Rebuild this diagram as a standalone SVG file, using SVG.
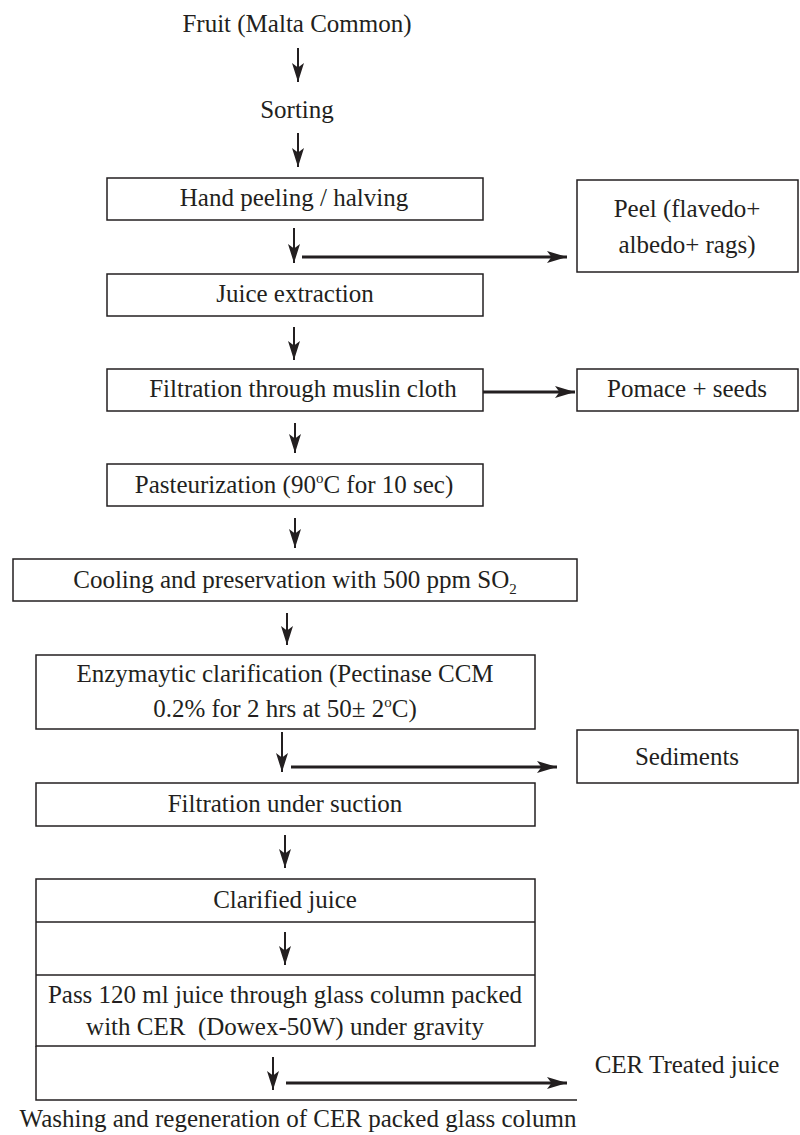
<svg xmlns="http://www.w3.org/2000/svg" width="800" height="1135" viewBox="0 0 800 1135">
<defs>
<style>
.box{fill:#ffffff;stroke:#231f20;stroke-width:1.5}
.t{font-family:"Liberation Serif","Times New Roman",Times,serif;font-size:25px;fill:#231f20;text-anchor:middle}
.v{stroke:#231f20;stroke-width:2;fill:none}
.h{stroke:#231f20;stroke-width:3;fill:none}
.edge{stroke:#231f20;stroke-width:1.5;fill:none}
</style>
<marker id="av" markerUnits="userSpaceOnUse" markerWidth="20" markerHeight="14" viewBox="0 0 20 14" refX="19" refY="7" orient="auto">
<path d="M0,1 L19,7 L0,13 L4.5,7 Z" fill="#231f20"/>
</marker>
<marker id="ah" markerUnits="userSpaceOnUse" markerWidth="21" markerHeight="14" viewBox="0 0 21 14" refX="20" refY="7" orient="auto">
<path d="M0,1 L20,7 L0,13 L4.5,7 Z" fill="#231f20"/>
</marker>
</defs>
<rect width="800" height="1135" fill="#ffffff"/>

<g id="n-fruit"><text class="t" font-family="Liberation Serif, serif" x="297" y="32">Fruit (Malta Common)</text></g>
<g id="n-sorting"><text class="t" x="297" y="118">Sorting</text></g>
<g id="n-hand"><rect class="box" x="107" y="178" width="376" height="42"/><text class="t" x="294" y="206">Hand peeling / halving</text></g>
<g id="n-peel"><rect class="box" x="577" y="180" width="221" height="92"/><text class="t" x="687" y="217">Peel (flavedo+</text><text class="t" x="687" y="253">albedo+ rags)</text></g>
<g id="n-juice"><rect class="box" x="107" y="274" width="376" height="42"/><text class="t" x="295" y="302">Juice extraction</text></g>
<g id="n-filtration"><rect class="box" x="107" y="369" width="376" height="42"/><text class="t" x="303" y="397">Filtration through muslin cloth</text></g>
<g id="n-pomace"><rect class="box" x="577" y="369" width="221" height="42"/><text class="t" x="687" y="397">Pomace + seeds</text></g>
<g id="n-past"><rect class="box" x="107" y="464" width="376" height="42"/><text class="t" x="294" y="493">Pasteurization (90<tspan font-size="15" dy="-10">o</tspan><tspan dy="10">C for 10 sec)</tspan></text></g>
<g id="n-cool"><rect class="box" x="13" y="559" width="564" height="42"/><text class="t" x="295" y="588">Cooling and preservation with 500 ppm SO<tspan font-size="15" dy="6">2</tspan></text></g>
<g id="n-enzyme"><rect class="box" x="36" y="655" width="499" height="74"/><text class="t" x="285" y="682">Enzymaytic clarification (Pectinase CCM</text><text class="t" x="285" y="717">0.2% for 2 hrs at 50± 2<tspan font-size="15" dy="-10">o</tspan><tspan dy="10">C)</tspan></text></g>
<g id="n-sediments"><rect class="box" x="577" y="730" width="221" height="53"/><text class="t" x="687" y="765">Sediments</text></g>
<g id="n-suction"><rect class="box" x="36" y="783" width="499" height="43"/><text class="t" x="285" y="812">Filtration under suction</text></g>
<g id="n-column">
<rect class="box" x="36" y="879" width="499" height="167"/>
<line class="edge" x1="36" y1="922" x2="535" y2="922"/>
<line class="edge" x1="36" y1="975" x2="535" y2="975"/>
<text class="t" x="285" y="908">Clarified juice</text>
<text class="t" x="285" y="1003">Pass 120 ml juice through glass column packed</text>
<text class="t" x="285" y="1035">with CER&#160; (Dowex-50W) under gravity</text>
<polyline class="edge" points="36,1046 36,1100 577,1100"/>
</g>
<g id="n-cer"><text class="t" x="687" y="1073">CER Treated juice</text></g>
<g id="n-washing"><text class="t" x="298" y="1127">Washing and regeneration of CER packed glass column</text></g>

<g id="connectors">
<line class="v" x1="298" y1="48" x2="298" y2="82" marker-end="url(#av)"/>
<line class="v" x1="298" y1="133" x2="298" y2="167" marker-end="url(#av)"/>
<line class="v" x1="294" y1="228" x2="294" y2="263" marker-end="url(#av)"/>
<line class="h" x1="302" y1="257" x2="567" y2="257" marker-end="url(#ah)"/>
<line class="v" x1="294" y1="327" x2="294" y2="360" marker-end="url(#av)"/>
<line class="h" x1="483" y1="392" x2="575" y2="392" marker-end="url(#ah)"/>
<line class="v" x1="295" y1="423" x2="295" y2="453" marker-end="url(#av)"/>
<line class="v" x1="295" y1="518" x2="295" y2="548" marker-end="url(#av)"/>
<line class="v" x1="287" y1="613" x2="287" y2="645" marker-end="url(#av)"/>
<line class="v" x1="282" y1="732" x2="282" y2="772" marker-end="url(#av)"/>
<line class="h" x1="291" y1="767" x2="557" y2="767" marker-end="url(#ah)"/>
<line class="v" x1="285" y1="835" x2="285" y2="868" marker-end="url(#av)"/>
<line class="v" x1="285" y1="932" x2="285" y2="965" marker-end="url(#av)"/>
<line class="v" x1="273" y1="1057" x2="273" y2="1090" marker-end="url(#av)"/>
<line class="h" x1="286" y1="1083" x2="567" y2="1083" marker-end="url(#ah)"/>
</g>
</svg>
